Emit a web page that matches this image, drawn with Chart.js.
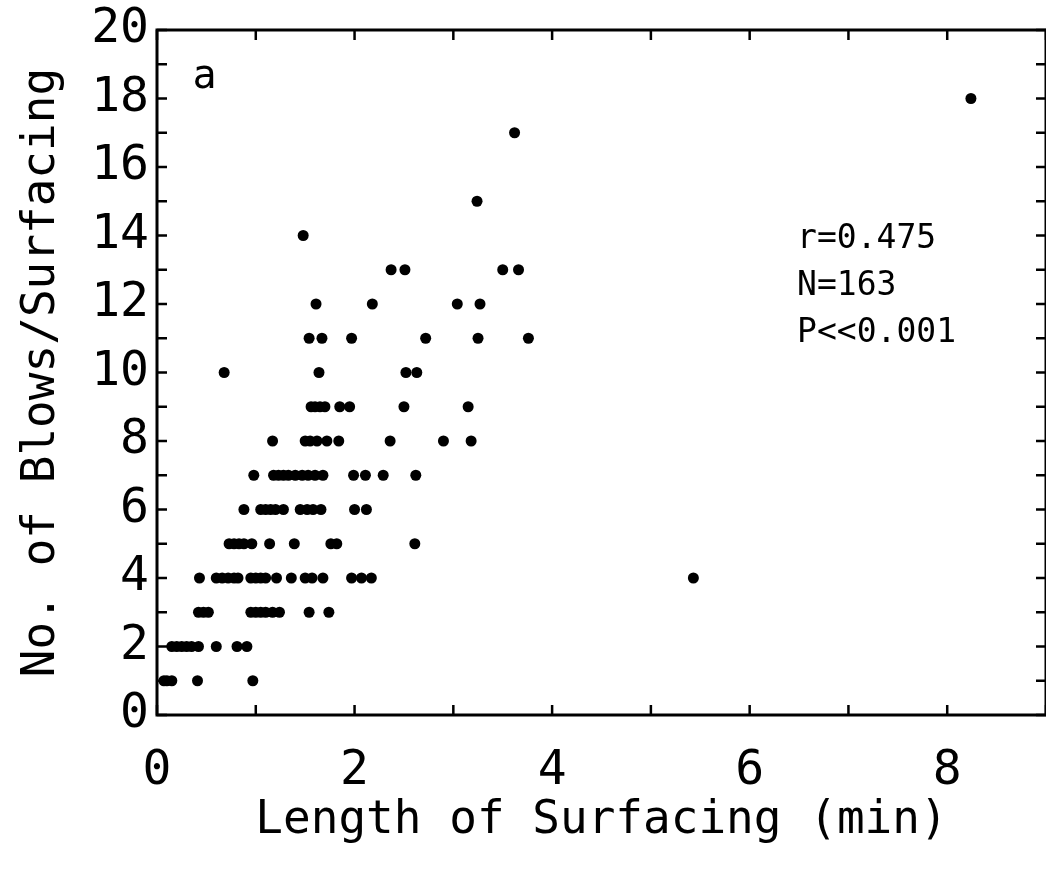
<!DOCTYPE html>
<html>
<head>
<meta charset="utf-8">
<title>Blows per surfacing</title>
<script src="https://cdn.jsdelivr.net/npm/chart.js@4.4.1/dist/chart.umd.min.js"></script>
<style>
  html,body{margin:0;padding:0;background:#fff;}
  #c{display:block;}
</style>
</head>
<body>
<canvas id="c" width="1046" height="875"></canvas>
<script>
// surfacing length (min) for each blow count
const blows1  = [0.07, 0.10, 0.15, 0.41, 0.97];
const blows2  = [0.15, 0.20, 0.25, 0.30, 0.35, 0.42, 0.60, 0.81, 0.91];
const blows3  = [0.42, 0.47, 0.52, 0.95, 1.00, 1.05, 1.10, 1.17, 1.24, 1.54, 1.74];
const blows4  = [0.43, 0.60, 0.66, 0.72, 0.78, 0.82, 0.95, 1.00, 1.05, 1.10, 1.21, 1.36, 1.50, 1.57, 1.68, 1.97, 2.07, 2.17, 5.43];
const blows5  = [0.73, 0.78, 0.83, 0.88, 0.96, 1.14, 1.39, 1.76, 1.82, 2.61];
const blows6  = [0.88, 1.05, 1.10, 1.15, 1.20, 1.28, 1.45, 1.52, 1.58, 1.66, 2.00, 2.12];
const blows7  = [0.98, 1.18, 1.23, 1.28, 1.33, 1.40, 1.47, 1.53, 1.60, 1.68, 1.99, 2.11, 2.29, 2.62];
const blows8  = [1.17, 1.50, 1.55, 1.62, 1.72, 1.84, 2.36, 2.90, 3.18];
const blows9  = [1.56, 1.60, 1.65, 1.70, 1.85, 1.95, 2.50, 3.15];
const blows10 = [0.68, 1.64, 2.52, 2.63];
const blows11 = [1.54, 1.67, 1.97, 2.72, 3.25, 3.76];
const blows12 = [1.61, 2.18, 3.04, 3.27];
const blows13 = [2.37, 2.51, 3.50, 3.66];
const blows14 = [1.48];
const blows15 = [3.24];
const blows17 = [3.62];
const blows18 = [8.24];

const rows = {1:blows1,2:blows2,3:blows3,4:blows4,5:blows5,6:blows6,7:blows7,8:blows8,
  9:blows9,10:blows10,11:blows11,12:blows12,13:blows13,14:blows14,15:blows15,17:blows17,18:blows18};

const xTickLabels = ['0','2','4','6','8'];
const yTickLabels = ['0','2','4','6','8','10','12','14','16','18','20'];
const statLines = ['r=0.475','N=163','P<<0.001'];

const points = [];
Object.keys(rows).forEach(k=>{
  rows[k].forEach(x=>points.push({x:x,y:Number(k)}));
});

const FONT = '"DejaVu Sans Mono", "Liberation Mono", monospace';

// frame + inward ticks on all four sides, plus the text inside the plot
const framePlugin = {
  id:'frame',
  afterDraw(chart){
    const {ctx,chartArea:a,scales} = chart;
    const xs = scales.x, ys = scales.y;
    ctx.save();
    ctx.strokeStyle='#000'; ctx.lineWidth=3;
    ctx.strokeRect(a.left,a.top,a.right-a.left,a.bottom-a.top);
    ctx.lineWidth=2.5;
    ctx.beginPath();
    xs.ticks.forEach(t=>{
      const px = xs.getPixelForValue(t.value);
      ctx.moveTo(px,a.bottom); ctx.lineTo(px,a.bottom-10);
      ctx.moveTo(px,a.top); ctx.lineTo(px,a.top+10);
    });
    ys.ticks.forEach(t=>{
      const py = ys.getPixelForValue(t.value);
      ctx.moveTo(a.left,py); ctx.lineTo(a.left+10,py);
      ctx.moveTo(a.right,py); ctx.lineTo(a.right-10,py);
    });
    ctx.stroke();

    ctx.fillStyle='#000';
    ctx.textBaseline='middle'; ctx.textAlign='left';
    ctx.font='40px '+FONT;
    ctx.fillText('a', xs.getPixelForValue(0.36), ys.getPixelForValue(18.6));
    ctx.font='33px '+FONT;
    statLines.forEach((s,i)=>{
      ctx.fillText(s, xs.getPixelForValue(6.48), ys.getPixelForValue(13.9-i*1.38));
    });
    ctx.restore();
  }
};

new Chart(document.getElementById('c'),{
  type:'scatter',
  data:{datasets:[{
    data:points,
    backgroundColor:'#000',
    borderColor:'#000',
    borderWidth:0,
    pointRadius:5.5,
    pointHoverRadius:5.5
  }]},
  options:{
    responsive:false,
    animation:false,
    events:[],
    layout:{autoPadding:false,padding:{top:30,right:0,left:0,bottom:0}},
    plugins:{legend:{display:false},tooltip:{enabled:false}},
    scales:{
      x:{
        type:'linear',min:0,max:9,
        grid:{display:false,drawTicks:false},
        border:{display:false},
        ticks:{stepSize:1,padding:28,color:'#000',maxRotation:0,autoSkip:false,
          font:{family:FONT,size:48},
          callback:v=>xTickLabels.includes(String(v))?String(v):''},
        title:{display:true,text:'Length of Surfacing (min)',color:'#000',
          font:{family:FONT,size:46},padding:{top:0,bottom:26}},
        afterFit(s){ s.height=160; s.paddingLeft=0; s.paddingRight=0; }
      },
      y:{
        type:'linear',min:0,max:20,
        grid:{display:false,drawTicks:false},
        border:{display:false},
        ticks:{stepSize:1,padding:8,color:'#000',autoSkip:false,
          font:{family:FONT,size:48},
          callback:v=>yTickLabels.includes(String(v))?String(v):''},
        title:{display:true,text:'No. of Blows/Surfacing',color:'#000',
          font:{family:FONT,size:46},padding:{top:14,bottom:0}},
        afterFit(s){ s.width=157; s.paddingTop=0; s.paddingBottom=0; }
      }
    }
  },
  plugins:[framePlugin]
});
</script>
</body>
</html>
